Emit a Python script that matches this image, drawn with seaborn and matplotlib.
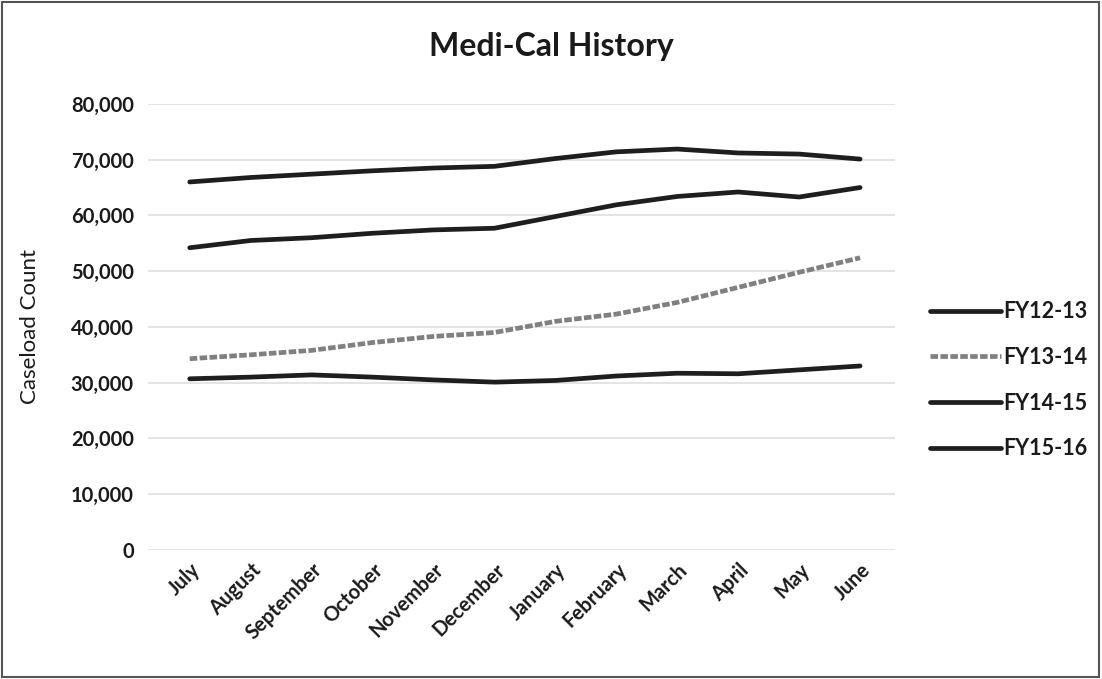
#%% bibliotecas
import pandas as pd
import seaborn as sns
import matplotlib.pyplot as plt
from matplotlib.patches import Rectangle
from matplotlib.ticker import FuncFormatter

#%% dados
months = ['July', 'August', 'September', 'October', 'November', 'December',
          'January', 'February', 'March', 'April', 'May', 'June']
series_names = ['FY12-13', 'FY13-14', 'FY14-15', 'FY15-16']

fy12_13 = [30700, 31000, 31400, 31000, 30500, 30100, 30400, 31200, 31700, 31600, 32300, 33000]
fy13_14 = [34300, 35000, 35800, 37200, 38300, 39000, 41000, 42300, 44400, 47100, 49800, 52400]
fy14_15 = [54200, 55500, 56000, 56800, 57400, 57700, 59800, 61900, 63400, 64200, 63300, 65000]
fy15_16 = [66000, 66800, 67400, 68000, 68500, 68800, 70200, 71400, 71900, 71200, 71000, 70100]

yticks = [0, 10000, 20000, 30000, 40000, 50000, 60000, 70000, 80000]

#%% tabela longa p/ seaborn
rows = []
for name, vals in zip(series_names, [fy12_13, fy13_14, fy14_15, fy15_16]):
    for i, (m, v) in enumerate(zip(months, vals)):
        rows.append({'pos': i, 'month': m, 'serie': name, 'count': v})
df = pd.DataFrame(rows)

#%% estilo
sns.set_style('white')
plt.rcParams['font.family'] = ['Lato', 'DejaVu Sans']
txt = '#1a1a1a'

fig = plt.figure(figsize=(11.02, 6.79), dpi=100)
ax = fig.add_axes([0.134, 0.19, 0.678, 0.657])

palette = {'FY12-13': '#1e1e1e', 'FY13-14': '#808080',
           'FY14-15': '#1e1e1e', 'FY15-16': '#1e1e1e'}
dashes = {'FY12-13': '', 'FY13-14': (1.6, 0.5),
          'FY14-15': '', 'FY15-16': ''}

sns.lineplot(data=df, x='pos', y='count', hue='serie', style='serie',
             palette=palette, dashes=dashes, linewidth=3.4,
             ax=ax, legend=True)
for ln in ax.lines:
    ln.set_solid_capstyle('round')

#%% eixos
ax.set_ylim(0, 80000)
ax.set_xlim(-0.69, 11.57)
ax.set_yticks(yticks)
ax.yaxis.set_major_formatter(FuncFormatter(lambda v, p: f'{int(v):,}'))
ax.set_xticks(range(len(months)))
ax.set_xticklabels(months, rotation=45, ha='right', rotation_mode='anchor',
                   fontsize=14.5, color=txt, fontweight='bold')
for lab in ax.get_yticklabels():
    lab.set_fontweight('bold')
ax.tick_params(axis='y', labelsize=14.5, labelcolor=txt, length=0, pad=10)
ax.tick_params(axis='x', length=0, pad=7)
ax.grid(axis='y', color='#e2e2e2', linewidth=1.3)
ax.set_axisbelow(True)
for s in ax.spines.values():
    s.set_visible(False)
ax.set_xlabel('')
ax.set_ylabel('Caseload Count', fontsize=16, color=txt, labelpad=22)

fig.text(0.5, 0.931, 'Medi-Cal History', fontsize=23, fontweight='bold',
         color=txt, ha='center', va='center')

#%% legenda à direita
handles, labels = ax.get_legend_handles_labels()
leg = ax.legend(handles, labels, loc='center left',
                bbox_to_anchor=(0.826, 0.44), bbox_transform=fig.transFigure,
                frameon=False, handlelength=3.3,
                handletextpad=0.1, labelspacing=1.15,
                prop={'size': 15.5, 'weight': 'bold'})
for t in leg.get_texts():
    t.set_color(txt)

# moldura da figura
fig.patches.append(Rectangle((0.002, 0.003), 0.995, 0.994,
                             transform=fig.transFigure, fill=False,
                             edgecolor='#555555', linewidth=1.5))

fig.savefig('out.png', dpi=100)
